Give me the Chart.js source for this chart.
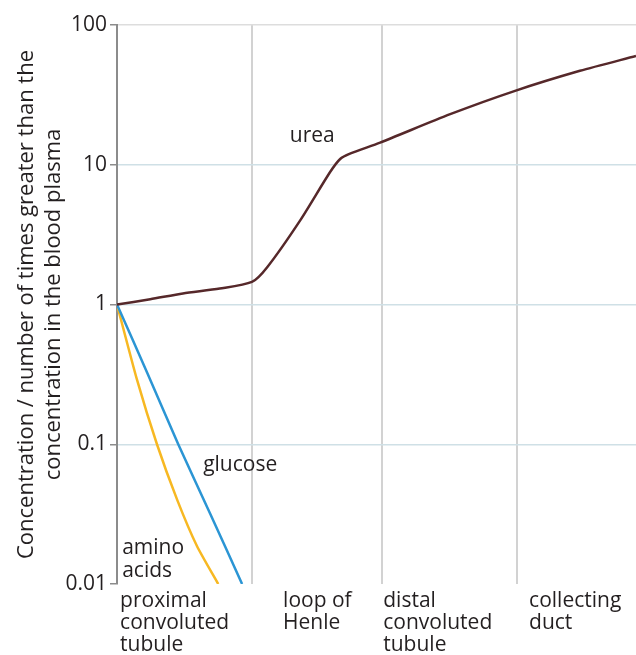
<!DOCTYPE html>
<html>
<head>
<meta charset="utf-8">
<script src="https://cdn.jsdelivr.net/npm/chart.js@4"></script>
<style>
  html, body { margin: 0; padding: 0; background: #fff; }
  #wrap { width: 636px; height: 655px; }
</style>
</head>
<body>
<div id="wrap"><canvas id="nephron-chart" width="636" height="655"></canvas></div>
<script>
// position along the nephron, 0 - 100
const segmentBounds = [0, 26, 51, 77];
const segmentLabelPos = [0.6, 32, 51.3, 79.4];
const segmentLabels = [
  ['proximal', 'convoluted', 'tubule'],
  ['loop of', 'Henle'],
  ['distal', 'convoluted', 'tubule'],
  ['collecting', 'duct']
];
const yTicks = [0.01, 0.1, 1, 10, 100];

const ureaX = [0, 6.4, 12.7, 19.8, 26.0, 28.9, 35.3, 41.0, 43.0, 44.9, 50.7, 64.2, 76.7, 89.2, 100];
const ureaY = [1, 1.09, 1.2, 1.3, 1.45, 1.84, 4.0, 8.8, 11, 12, 14.4, 23, 33.8, 47, 60];

const glucoseX = [0, 5.9, 11.8, 18, 24.1];
const glucoseY = [1, 0.32, 0.1, 0.0316, 0.01];

const aminoX = [0, 3.85, 7.7, 11.6, 15.4, 19.5];
const aminoY = [1, 0.29, 0.1, 0.04, 0.0187, 0.01];

// text labels placed next to the lines [text lines, x, y]
const lineNotes = [
  [['urea'], 33.3, 16.1],
  [['glucose'], 16.6, 0.071],
  [['amino', 'acids'], 1.0, 0.018]
];

const FONT = '"Open Sans", "Noto Sans", sans-serif';
const pts = (xs, ys) => xs.map((x, i) => ({ x: x, y: ys[i] }));

const notesPlugin = {
  id: 'notes',
  afterDatasetsDraw(chart) {
    const { ctx, scales: { x, y } } = chart;
    ctx.save();
    ctx.font = '21px ' + FONT;
    ctx.fillStyle = '#231f20';
    ctx.textAlign = 'left';
    ctx.textBaseline = 'middle';
    lineNotes.forEach(([lines, vx, vy]) => {
      const px = x.getPixelForValue(vx);
      const py = y.getPixelForValue(vy);
      lines.forEach((t, i) => ctx.fillText(t, px, py + i * 23));
    });
    ctx.restore();
  }
};

new Chart(document.getElementById('nephron-chart'), {
  type: 'line',
  data: {
    datasets: [
      {
        label: 'urea',
        data: pts(ureaX, ureaY),
        borderColor: '#56282a',
        borderWidth: 2.5,
        pointRadius: 0,
        tension: 0.25
      },
      {
        label: 'glucose',
        data: pts(glucoseX, glucoseY),
        borderColor: '#2b95d4',
        borderWidth: 2.5,
        pointRadius: 0,
        tension: 0.2
      },
      {
        label: 'amino acids',
        data: pts(aminoX, aminoY),
        borderColor: '#f7b822',
        borderWidth: 2.5,
        pointRadius: 0,
        tension: 0.2
      }
    ]
  },
  options: {
    responsive: false,
    animation: false,
    layout: { padding: { top: 25, right: 0, left: 0, bottom: 0 } },
    plugins: {
      legend: { display: false },
      tooltip: { enabled: false }
    },
    scales: {
      x: {
        type: 'linear',
        min: 0,
        max: 100,
        afterBuildTicks: (scale) => {
          scale.ticks = segmentBounds.concat(segmentLabelPos).sort((a, b) => a - b).map(v => ({ value: v }));
        },
        afterFit: (scale) => { scale.height = 71; },
        border: { display: false },
        grid: {
          drawTicks: false,
          lineWidth: 2,
          color: (c) => (c.tick && segmentBounds.includes(c.tick.value) && c.tick.value !== 0) ? '#d2d2d2' : 'rgba(0,0,0,0)'
        },
        ticks: {
          autoSkip: false,
          maxRotation: 0,
          align: 'start',
          padding: 6,
          color: '#231f20',
          font: { family: FONT, size: 21, lineHeight: 1.05 },
          callback: (value) => {
            const i = segmentLabelPos.indexOf(value);
            return i >= 0 ? segmentLabels[i] : '';
          }
        }
      },
      y: {
        type: 'logarithmic',
        min: 0.01,
        max: 100,
        afterBuildTicks: (scale) => {
          scale.ticks = yTicks.map(v => ({ value: v }));
        },
        afterFit: (scale) => { scale.width = 117; },
        border: { display: true, color: '#8c8c8c', width: 2 },
        grid: {
          lineWidth: 1.5,
          tickLength: 7,
          tickColor: '#8c8c8c',
          tickWidth: 1.5,
          color: (c) => {
            if (!c.tick) return 'rgba(0,0,0,0)';
            if (c.tick.value === 100) return '#dddddd';
            if (c.tick.value === 0.01) return 'rgba(0,0,0,0)';
            return '#cfe0e6';
          }
        },
        ticks: {
          padding: 3,
          color: '#231f20',
          font: { family: FONT, size: 21 },
          callback: (value) => String(value)
        },
        title: {
          display: true,
          text: ['Concentration / number of times greater than the', 'concentration in the blood plasma'],
          color: '#231f20',
          font: { family: FONT, size: 22, lineHeight: 1.2 },
          padding: { top: 14, bottom: 0 }
        }
      }
    }
  },
  plugins: [notesPlugin]
});
</script>
</body>
</html>
